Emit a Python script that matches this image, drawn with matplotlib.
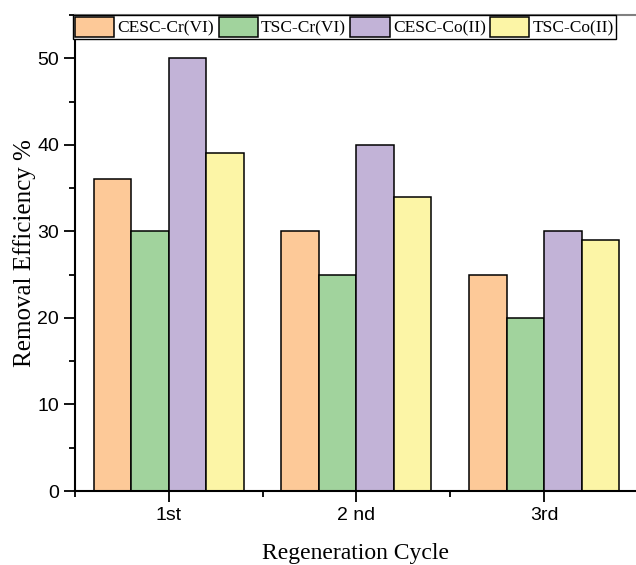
import numpy as np
import matplotlib
matplotlib.use("Agg")
import matplotlib.pyplot as plt
from matplotlib.ticker import MultipleLocator, FixedLocator

cycles = ["1st", "2 nd", "3rd"]
series = ["CESC-Cr(VI)", "TSC-Cr(VI)", "CESC-Co(II)", "TSC-Co(II)"]
cesc_cr = [36, 30, 25]
tsc_cr = [30, 25, 20]
cesc_co = [50, 40, 30]
tsc_co = [39, 34, 29]
colors = ["#FDC998", "#A1D39D", "#C2B3D7", "#FCF5A6"]

serif = "Liberation Serif"
sans = "Liberation Sans"

fig = plt.figure(figsize=(6.36, 5.65), dpi=100)
ax = fig.add_axes([75 / 636, 74 / 565, 1 - 75 / 636, (491 - 15) / 565])

x = np.arange(1, len(cycles) + 1)
w = 0.2
for i, (vals, lab) in enumerate(zip([cesc_cr, tsc_cr, cesc_co, tsc_co], series)):
    ax.bar(x + (i - 1.5) * w, vals, w, color=colors[i], edgecolor="black",
           linewidth=1.1, label=lab)

ax.set_xlim(0.5, 3.49)
ax.set_ylim(0, 55)
ax.set_xticks(x)
ax.set_xticklabels(cycles, fontfamily=sans, fontsize=14)
ax.xaxis.set_minor_locator(FixedLocator([0.5, 1.5, 2.5, 3.5]))
ax.yaxis.set_major_locator(MultipleLocator(10))
ax.yaxis.set_minor_locator(MultipleLocator(5))
for lbl in ax.get_yticklabels():
    lbl.set_fontfamily(sans)
    lbl.set_fontsize(14)
ax.tick_params(which="major", direction="out", length=8, width=1.3)
ax.tick_params(which="minor", direction="out", length=4, width=1.3)
ax.tick_params(top=False, right=False)

for s in ["left", "bottom"]:
    ax.spines[s].set_linewidth(1.5)
ax.spines["top"].set_color("gray")
ax.spines["top"].set_linewidth(1.5)
ax.spines["right"].set_visible(False)

ax.set_xlabel("Regeneration Cycle", fontfamily=serif, fontsize=17, labelpad=14)
ax.set_ylabel("Removal Efficiency %", fontfamily=serif, fontsize=18, labelpad=1)

leg = ax.legend(loc="upper left", bbox_to_anchor=(73 / 636, 1 - 15 / 565),
                bbox_transform=fig.transFigure, borderaxespad=0, ncol=4,
                prop={"family": serif, "size": 12.5}, frameon=True, fancybox=False,
                edgecolor="black", framealpha=1, handlelength=2.25,
                handleheight=1.35, handletextpad=0.2, columnspacing=0.25,
                borderpad=0.12)
leg.get_frame().set_linewidth(1.0)

fig.savefig("out.png", dpi=100)
